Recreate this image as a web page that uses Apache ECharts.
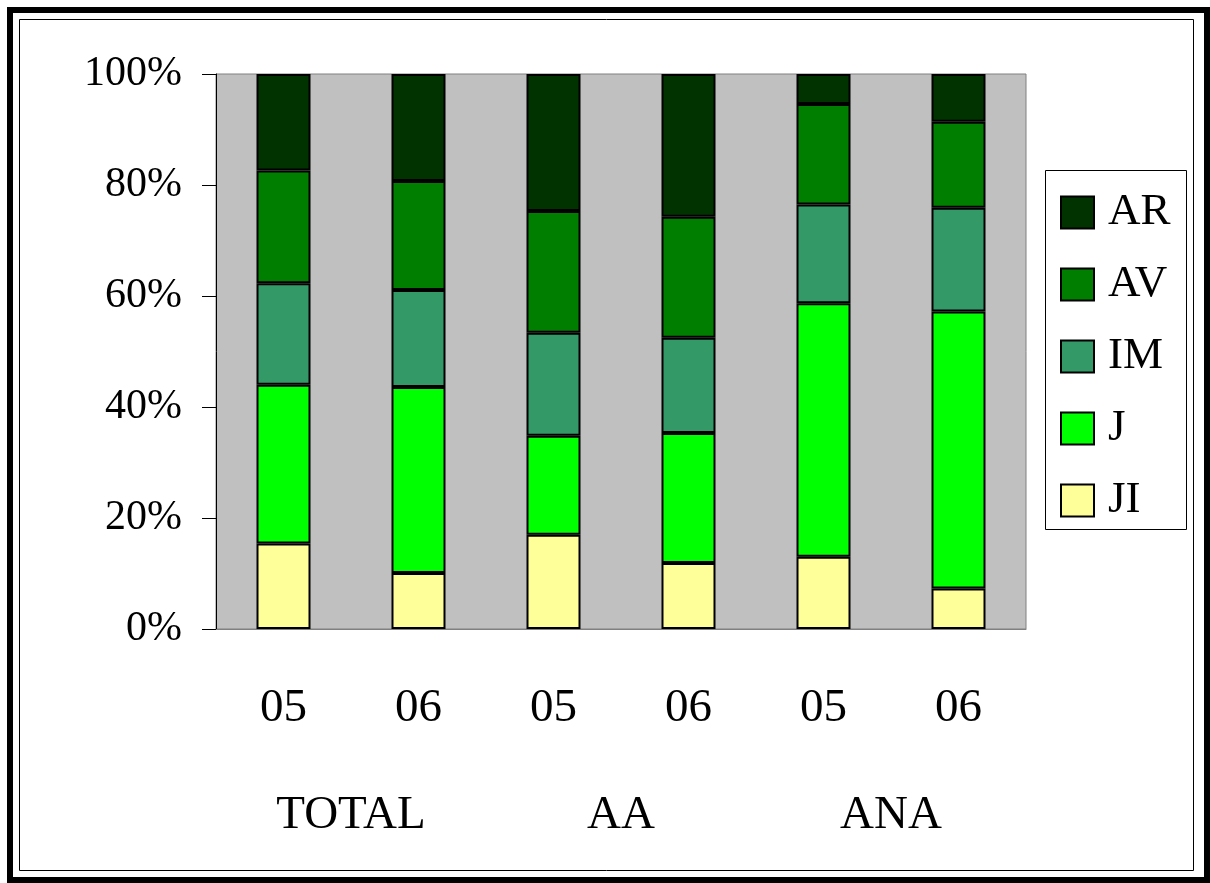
<!DOCTYPE html>
<html>
<head>
<meta charset="utf-8">
<title>AR / AV / IM / J / JI</title>
<script src="https://cdn.jsdelivr.net/npm/echarts@6/dist/echarts.min.js"></script>
<style>
  html, body { margin: 0; padding: 0; background: #ffffff; }
  #chart { width: 1210px; height: 883px; }
</style>
</head>
<body>
<div id="chart"></div>
<script>
// Year labels under each bar and the group labels beneath them
var years = ['05', '06', '05', '06', '05', '06'];
var groups = ['TOTAL', 'AA', 'ANA'];

// Share of each class per bar, in percent (stacked bottom to top: JI, J, IM, AV, AR)
var JI = [15.4, 10.1, 17.0, 11.9, 13.0, 7.3];
var J  = [28.6, 33.5, 17.8, 23.4, 45.7, 49.9];
var IM = [18.3, 17.5, 18.6, 17.2, 17.8, 18.7];
var AV = [20.3, 19.6, 21.9, 21.8, 18.1, 15.5];
var AR = [17.4, 19.3, 24.7, 25.7, 5.4, 8.6];

// Y axis ticks
var yTicks = [0, 20, 40, 60, 80, 100];

var FONT = '"Liberation Serif", "Times New Roman", serif';

var colors = {
  AR: '#003300',
  AV: '#007e00',
  IM: '#339966',
  J: '#00ff00',
  JI: '#ffff99'
};

function barSeries(name, values) {
  return {
    name: name,
    type: 'bar',
    stack: 'share',
    xAxisIndex: 0,
    barWidth: '40%',
    data: values,
    itemStyle: {
      color: colors[name],
      borderColor: '#000000',
      borderWidth: 2
    },
    emphasis: { disabled: true }
  };
}

var chart = echarts.init(document.getElementById('chart'), null, { renderer: 'canvas' });

chart.setOption({
  animation: false,
  backgroundColor: '#ffffff',
  textStyle: { fontFamily: FONT },
  graphic: [
    {
      type: 'rect',
      shape: { x: 10, y: 10, width: 1197, height: 870 },
      style: { fill: null, stroke: '#000000', lineWidth: 6 },
      silent: true
    },
    {
      type: 'rect',
      shape: { x: 19.5, y: 19.5, width: 1174, height: 851 },
      style: { fill: null, stroke: '#000000', lineWidth: 1 },
      silent: true
    },
    {
      type: 'rect',
      shape: { x: 1045.5, y: 170.5, width: 141, height: 359 },
      style: { fill: '#ffffff', stroke: '#000000', lineWidth: 1 },
      silent: true,
      z: -1
    }
  ],
  legend: {
    orient: 'vertical',
    left: 1060,
    top: 190,
    padding: 0,
    icon: 'rect',
    itemWidth: 33,
    itemHeight: 32,
    itemGap: 27,
    selectedMode: false,
    data: ['AR', 'AV', 'IM', 'J', 'JI'],
    itemStyle: { borderColor: '#000000', borderWidth: 2 },
    textStyle: {
      fontFamily: FONT,
      fontSize: 45,
      color: '#000000',
      padding: [0, 0, 0, 9]
    }
  },
  grid: {
    left: 216,
    top: 74,
    right: 184,
    bottom: 254,
    show: true,
    backgroundColor: '#c0c0c0',
    borderColor: '#808080',
    borderWidth: 1
  },
  xAxis: [
    {
      type: 'category',
      data: years,
      position: 'bottom',
      axisLine: { show: true, lineStyle: { color: '#808080', width: 1 } },
      axisTick: { show: false },
      splitLine: { show: false },
      axisLabel: {
        fontFamily: FONT,
        fontSize: 47,
        color: '#000000',
        margin: 56,
        interval: 0
      }
    },
    {
      type: 'category',
      data: groups,
      position: 'bottom',
      axisLine: { show: false },
      axisTick: { show: false },
      splitLine: { show: false },
      axisLabel: {
        fontFamily: FONT,
        fontSize: 47,
        color: '#000000',
        margin: 163,
        interval: 0
      }
    }
  ],
  yAxis: {
    type: 'value',
    min: yTicks[0],
    max: yTicks[yTicks.length - 1],
    interval: yTicks[1] - yTicks[0],
    axisLine: { show: true, lineStyle: { color: '#000000', width: 1 } },
    axisTick: { show: true, length: 14, lineStyle: { color: '#000000', width: 1 } },
    splitLine: { show: false },
    axisLabel: {
      fontFamily: FONT,
      fontSize: 42,
      color: '#000000',
      margin: 34,
      formatter: '{value}%'
    }
  },
  series: [
    barSeries('JI', JI),
    barSeries('J', J),
    barSeries('IM', IM),
    barSeries('AV', AV),
    barSeries('AR', AR)
  ]
});
</script>
</body>
</html>
